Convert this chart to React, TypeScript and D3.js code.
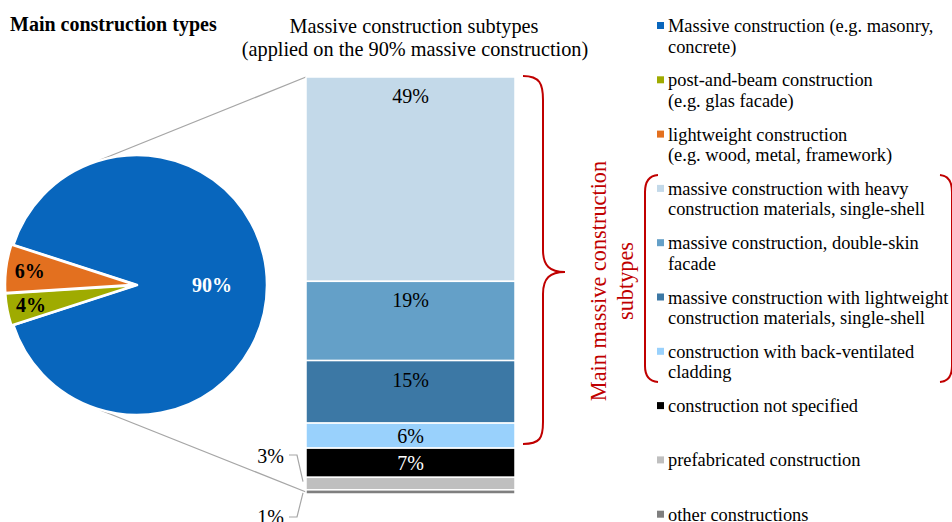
import React from "react";
import * as d3 from "d3";

const pieLabels = ["Massive construction", "post-and-beam construction", "lightweight construction"];
const pieValues = [90, 4, 6];
const pieColors = ["#0866bd", "#9fab00", "#e3701f"];
const pieTextColors = ["#ffffff", "#000000", "#000000"];

const barLabels = [
  "massive construction with heavy construction materials, single-shell",
  "massive construction, double-skin facade",
  "massive construction with lightweight construction materials, single-shell",
  "construction with back-ventilated cladding",
  "construction not specified",
  "prefabricated construction",
  "other constructions",
];
const barValues = [49, 19, 15, 6, 7, 3, 1];
const barColors = ["#c3d9e9", "#64a0c8", "#3c78a5", "#99d1fc", "#000000", "#bfbfbf", "#7f7f7f"];
const barTextColors = ["#000", "#000", "#000", "#000", "#fff", null, null];

const legendLines = [
  ["Massive construction (e.g. masonry,", "concrete)"],
  ["post-and-beam construction", "(e.g. glas facade)"],
  ["lightweight construction", "(e.g. wood, metal, framework)"],
  ["massive construction with heavy", "construction materials, single-shell"],
  ["massive construction, double-skin", "facade"],
  ["massive construction with lightweight", "construction materials, single-shell"],
  ["construction with back-ventilated", "cladding"],
  ["construction not specified"],
  ["prefabricated construction"],
  ["other constructions"],
];
const legendColors = [
  pieColors[0], pieColors[1], pieColors[2],
  barColors[0], barColors[1], barColors[2], barColors[3], barColors[4], barColors[5], barColors[6],
];

const FONT = '"Liberation Serif"';

export default function App() {
  const W = 952, H = 522;
  const cx = 137, cy = 285, R = 130;
  const pie = d3.pie<number>().sort(null).startAngle((-72 * Math.PI) / 180).endAngle((288 * Math.PI) / 180);
  const arcs = pie(pieValues);
  const arcGen = d3.arc<d3.PieArcDatum<number>>().innerRadius(0).outerRadius(R);

  const barX0 = 306, barX1 = 515;
  const y = d3.scaleLinear().domain([0, 100]).range([77, 494]);
  let cum = 0;
  const segs = barValues.map((v, i) => {
    const s = { v, i, y0: y(cum), y1: y(cum + v) };
    cum += v;
    return s;
  });

  const legendY = (i: number) => 32 + i * 54.3;
  const ts = { fontFamily: FONT };

  return (
    <svg width={W} height={H} style={{ position: "absolute", left: 0, top: 0, background: "#fff" }}>
      {/* titles */}
      <text style={ts} x={10} y={31} fontSize={20} fontWeight="bold">Main construction types</text>
      <text style={ts} x={414} y={33} fontSize={20.3} textAnchor="middle">Massive construction subtypes</text>
      <text style={ts} x={415} y={56} fontSize={20.3} textAnchor="middle">(applied on the 90% massive construction)</text>

      {/* connector lines */}
      <line x1={100} y1={160} x2={barX0} y2={77} stroke="#a6a6a6" strokeWidth={1.3} />
      <line x1={100} y1={410} x2={barX0} y2={492} stroke="#a6a6a6" strokeWidth={1.3} />

      {/* pie */}
      <g transform={`translate(${cx},${cy})`}>
        {arcs.map((a, i) => {
          const mid = (a.startAngle + a.endAngle) / 2;
          const off = i === 0 ? 0 : 2;
          return (
            <path
              key={i}
              d={arcGen(a) as string}
              fill={pieColors[i]}
              stroke="#fff"
              strokeWidth={2.5}
              strokeLinejoin="round"
              transform={`translate(${off * Math.sin(mid)},${-off * Math.cos(mid)})`}
            />
          );
        })}
        {arcs.map((a, i) => {
          const mid = (a.startAngle + a.endAngle) / 2;
          const r = i === 0 ? 75 : 108;
          return (
            <text
              key={"l" + i}
              style={ts}
              x={r * Math.sin(mid)}
              y={-r * Math.cos(mid) + 7}
              fontSize={20}
              fontWeight="bold"
              textAnchor="middle"
              fill={pieTextColors[i]}
            >
              {pieValues[i]}%
            </text>
          );
        })}
      </g>

      {/* bar */}
      {segs.map((s) => (
        <rect
          key={s.i}
          x={barX0}
          y={s.y0}
          width={barX1 - barX0}
          height={s.y1 - s.y0}
          fill={barColors[s.i]}
          stroke="#fff"
          strokeWidth={1.5}
        />
      ))}
      {segs.map((s) => {
        const tc = barTextColors[s.i];
        if (!tc) return null;
        const cyL = Math.min(s.y0 + 19, (s.y0 + s.y1) / 2);
        return (
          <text key={"t" + s.i} style={ts} x={(barX0 + barX1) / 2} y={cyL + 7} fontSize={20} textAnchor="middle" fill={tc}>
            {s.v}%
          </text>
        );
      })}
      {/* small segment labels */}
      <text style={ts} x={284} y={463} fontSize={20} textAnchor="end">{barValues[5]}%</text>
      <polyline points={`289,455 297,455 303,${(segs[5].y0 + segs[5].y1) / 2 - 2}`} fill="none" stroke="#a6a6a6" strokeWidth={1.2} />
      <text style={ts} x={284} y={524} fontSize={20} textAnchor="end">{barValues[6]}%</text>
      <polyline points={`289,517 297,517 303,${(segs[6].y0 + segs[6].y1) / 2 + 1}`} fill="none" stroke="#a6a6a6" strokeWidth={1.2} />

      {/* brace */}
      <path
        d="M523,76 C540,76 543,84 543,100 L543,250 C543,266 550,272 565,272 C550,272 543,278 543,294 L543,422 C543,438 540,444 523,444"
        fill="none"
        stroke="#c00000"
        strokeWidth={2}
      />
      <g transform="translate(606,281) rotate(-90)">
        <text style={ts} x={0} y={0} fontSize={22.3} textAnchor="middle" fill="#c00000">Main massive construction</text>
        <text style={ts} x={0} y={27} fontSize={22.3} textAnchor="middle" fill="#c00000">subtypes</text>
      </g>

      {/* legend */}
      {legendLines.map((lines, i) => (
        <g key={"lg" + i}>
          <rect x={657} y={legendY(i) - 10} width={7} height={7} fill={legendColors[i]} />
          {lines.map((t, j) => (
            <text key={j} style={ts} x={668} y={legendY(i) + j * 20.5} fontSize={18.4}>{t}</text>
          ))}
        </g>
      ))}
      {/* legend red brackets */}
      <path d="M658,175 Q645,176 645,192 L645,366 Q645,381 658,382" fill="none" stroke="#c00000" strokeWidth={2} />
      <path d="M940,175 Q952,176 952,192 L952,366 Q952,381 940,382" fill="none" stroke="#c00000" strokeWidth={2} />
    </svg>
  );
}
